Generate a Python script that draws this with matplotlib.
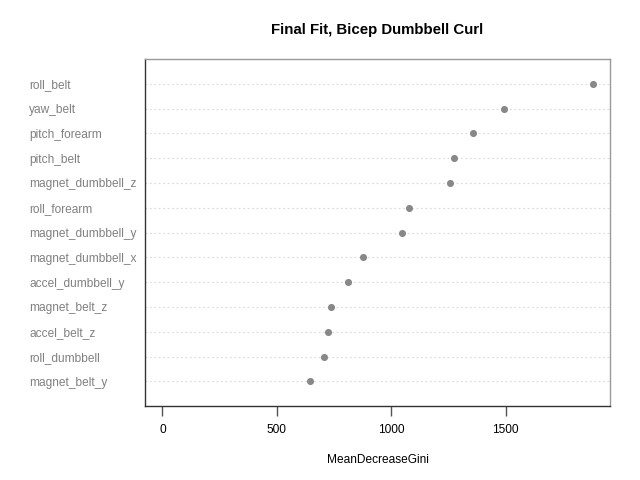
import matplotlib
matplotlib.use("Agg")
import matplotlib.pyplot as plt

variables = ["roll_belt", "yaw_belt", "pitch_forearm", "pitch_belt", "magnet_dumbbell_z",
             "roll_forearm", "magnet_dumbbell_y", "magnet_dumbbell_x", "accel_dumbbell_y",
             "magnet_belt_z", "accel_belt_z", "roll_dumbbell", "magnet_belt_y"]
gini = [1880, 1494, 1359, 1274, 1255, 1076, 1048, 876, 813, 738, 723, 707, 647]
xticks = [0, 500, 1000, 1500]

plt.rcParams['font.family'] = ['Liberation Sans', 'DejaVu Sans']

fig = plt.figure(figsize=(6.4, 4.8), dpi=100)
ax = fig.add_axes([0.227, 0.154, 0.7257, 0.723])

n = len(variables)
ys = [n - i for i in range(n)]
xmax = max(gini)
ax.set_xlim(-0.04 * xmax, 1.04 * xmax)
ax.set_ylim(0, n + 1)

for y in ys:
    ax.axhline(y, color='#d9d9d9', lw=0.8, ls=(0, (1.5, 2.5)), zorder=1)
ax.scatter(gini, ys, s=26, color='#888888', zorder=3, linewidths=0)

ax.set_yticks(ys)
ax.set_yticklabels(variables)
for lab in ax.get_yticklabels():
    lab.set_horizontalalignment('left')
    lab.set_color('#808080')
    lab.set_fontsize(8.6)
ax.tick_params(axis='y', length=0, pad=83.5)

ax.set_xticks(xticks)
ax.set_xticklabels([str(t) for t in xticks], fontsize=8.6)
ax.tick_params(axis='x', length=7, width=1, color='#555555', pad=6)

ax.spines['left'].set_color('#333333')
ax.spines['bottom'].set_color('#333333')
ax.spines['top'].set_color('#999999')
ax.spines['right'].set_color('#999999')
for s in ax.spines.values():
    s.set_linewidth(1.0)

ax.set_xlabel("MeanDecreaseGini", fontsize=8.6, labelpad=13)
fig.text(0.59, 0.937, "Final Fit, Bicep Dumbbell Curl", ha='center', va='center',
         fontsize=10.8, fontweight='bold')

fig.savefig("out.png", dpi=100)
